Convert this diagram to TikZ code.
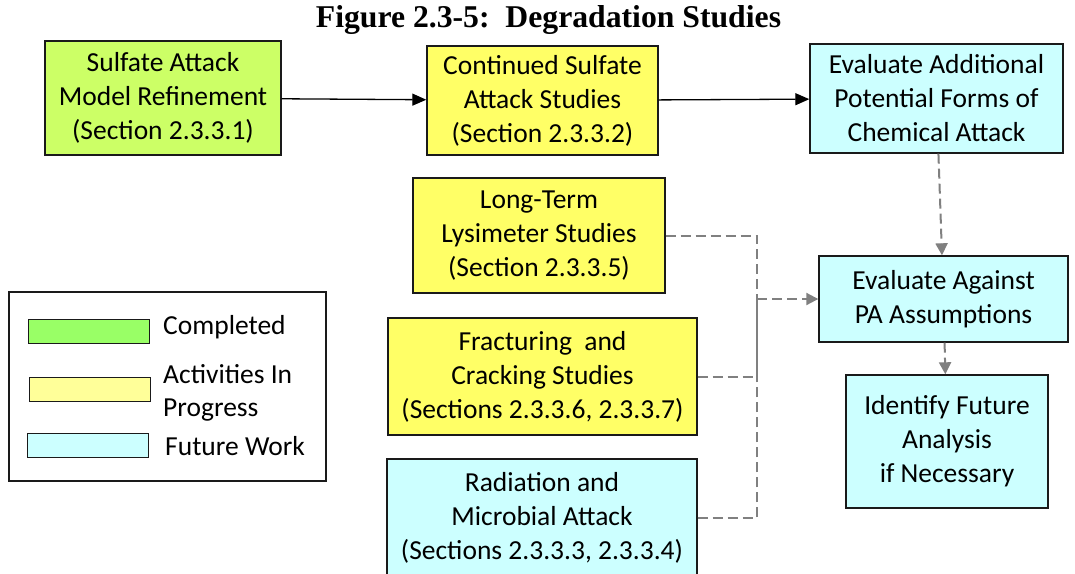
\documentclass[tikz,border=0pt]{standalone}
\usepackage{fontspec}
\setmainfont{Carlito}
\newfontfamily\titlefont{Liberation Serif}
\usetikzlibrary{arrows.meta,positioning}
\definecolor{dsdone}{HTML}{CCFF66}
\definecolor{dsdonekey}{HTML}{99FF66}
\definecolor{dswork}{HTML}{FFFF66}
\definecolor{dsworkkey}{HTML}{FFFF99}
\definecolor{dsfuture}{HTML}{CCFFFF}
\definecolor{dsline}{HTML}{1A1A1A}
\definecolor{dsgray}{HTML}{808080}

\begin{document}
\begin{tikzpicture}[x=1pt,y=-1pt,
  box/.style={draw=dsline,line width=1.4pt,align=center,inner sep=0pt,
    font=\fontsize{27.5}{34}\selectfont},
  key/.style={draw=dsline,line width=1.4pt,inner sep=0pt,minimum width=121pt,minimum height=24pt},
  keytxt/.style={anchor=west,align=left,inner sep=0pt,font=\fontsize{27.5}{33}\selectfont},
  arr/.style={-{Triangle[length=14pt,width=12pt]},line width=1.3pt,black},
  darr/.style={-{Triangle[length=12pt,width=12pt]},line width=2pt,dsgray,dash pattern=on 10pt off 5pt},
  dline/.style={line width=2pt,dsgray,dash pattern=on 10pt off 5pt}]
  \useasboundingbox (0,0) rectangle (1075,573);
  \node[font=\titlefont\bfseries\fontsize{31.7}{34}\selectfont] (title) at (548.5,20) {Figure 2.3-5:\ \ Degradation Studies};
  % top row
  \node[box,fill=dsdone,minimum width=236pt,minimum height=114pt] (model) at (163,98)
    {Sulfate Attack\\Model Refinement\\(Section 2.3.3.1)};
  \node[box,fill=dswork,minimum width=231pt,minimum height=109pt] (cont) at (542.5,100.5)
    {Continued Sulfate\\Attack Studies\\(Section 2.3.3.2)};
  \node[box,fill=dsfuture,minimum width=253pt,minimum height=109pt] (chem) at (936.5,98.5)
    {Evaluate Additional\\Potential Forms of\\Chemical Attack};
  % middle column
  \node[box,fill=dswork,minimum width=252pt,minimum height=115pt] (lys) at (539,235.5)
    {Long-Term\\Lysimeter Studies\\(Section 2.3.3.5)};
  \node[box,fill=dswork,minimum width=309pt,minimum height=117pt] (frac) at (542.5,376.5)
    {Fracturing\ \ and\\Cracking Studies\\(Sections 2.3.3.6, 2.3.3.7)};
  \node[box,fill=dsfuture,minimum width=310pt,minimum height=118pt] (rad) at (542,518)
    {Radiation and\\Microbial Attack\\(Sections 2.3.3.3, 2.3.3.4)};
  % right column
  \node[box,fill=dsfuture,minimum width=249pt,minimum height=86pt] (pa) at (943.5,299)
    {Evaluate Against\\PA Assumptions};
  \node[box,fill=dsfuture,minimum width=202pt,minimum height=133pt] (next) at (947,441.5)
    {Identify Future\\Analysis\\if Necessary};
  % legend
  \node[draw=dsline,line width=1.4pt,minimum width=317pt,minimum height=189pt] (legend) at (167.5,386.5) {};
  \node[key,fill=dsdonekey] (kdone) at (89,331.5) {};
  \node[key,fill=dsworkkey] (kwork) at (90,389.5) {};
  \node[key,fill=dsfuture] (kfut) at (88,445.5) {};
  \node[keytxt] (tdone) at (163,327) {Completed};
  \node[keytxt] (twork) at (163,393) {Activities In\\Progress};
  \node[keytxt] (tfut) at (165,446) {Future Work};
  % connectors
  \draw[arr] (model) -- (cont);
  \draw[arr] (cont) -- (chem);
  \draw[darr] (chem) -- (pa);
  \draw[darr] (pa) -- (next);
  \coordinate (bus) at (757,299);
  \draw[dline] (lys.east) -| (bus);
  \draw[dline] (frac.east) -| (bus);
  \draw[dline] (rad.east) -| (bus);
  \draw[darr] (bus) -- (pa);
\end{tikzpicture}
\end{document}
